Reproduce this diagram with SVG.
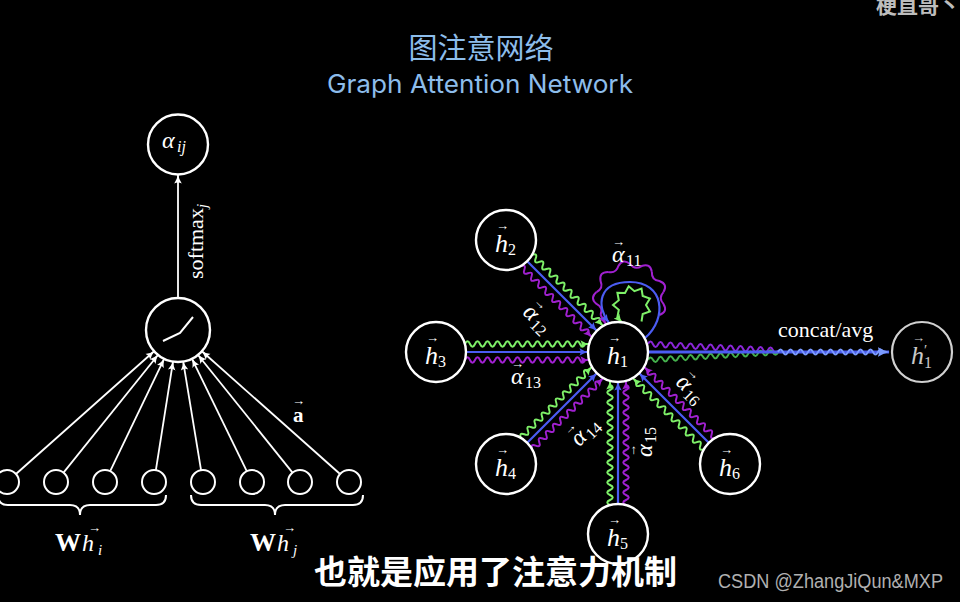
<svg xmlns="http://www.w3.org/2000/svg" width="960" height="602" viewBox="0 0 960 602">
<style>
.node{fill:#000;stroke:#fff;stroke-width:2.4}
.sn{fill:#000;stroke:#fff;stroke-width:2}
.wl{fill:none;stroke:#fff;stroke-width:1.8;marker-end:url(#mw)}
.m{font-family:"Liberation Serif","DejaVu Serif",serif;fill:#fff}
.it{font-style:italic}
.vec{font-family:"Liberation Serif","DejaVu Serif",serif;font-size:13px;fill:#fff}
.wg{fill:none;stroke:#7ef068;stroke-width:2;marker-end:url(#mg)}
.wb{fill:none;stroke:#4b5cf2;stroke-width:2.2;marker-end:url(#mb)}
.wp{fill:none;stroke:#a020d0;stroke-width:2;marker-end:url(#mp)}
.lp{fill:none;stroke:#a020d0;stroke-width:2}
.cjk{font-family:"Noto Sans CJK SC","Noto Sans",sans-serif}
</style>
<defs>
<marker id="mw" viewBox="0 0 10 10" refX="9.5" refY="5" markerWidth="9" markerHeight="9" markerUnits="userSpaceOnUse" orient="auto"><path d="M0,0.8 Q5,4 10,5 Q5,6 0,9.2 Q2.5,5 0,0.8Z" fill="#fff"/></marker>
<marker id="mg" viewBox="0 0 10 10" refX="9.5" refY="5" markerWidth="9" markerHeight="9" markerUnits="userSpaceOnUse" orient="auto"><path d="M0,0.8 Q5,4 10,5 Q5,6 0,9.2 Q2.5,5 0,0.8Z" fill="#7ef068"/></marker>
<marker id="mb" viewBox="0 0 10 10" refX="9.5" refY="5" markerWidth="9" markerHeight="9" markerUnits="userSpaceOnUse" orient="auto"><path d="M0,0.8 Q5,4 10,5 Q5,6 0,9.2 Q2.5,5 0,0.8Z" fill="#4b5cf2"/></marker>
<marker id="mp" viewBox="0 0 10 10" refX="9.5" refY="5" markerWidth="9" markerHeight="9" markerUnits="userSpaceOnUse" orient="auto"><path d="M0,0.8 Q5,4 10,5 Q5,6 0,9.2 Q2.5,5 0,0.8Z" fill="#a020d0"/></marker>
<marker id="mbl" viewBox="0 0 10 10" refX="9.5" refY="5" markerWidth="12" markerHeight="12" markerUnits="userSpaceOnUse" orient="auto"><path d="M0,0.8 Q5,4 10,5 Q5,6 0,9.2 Q2.5,5 0,0.8Z" fill="#7b9bff"/></marker>
<path id="wd" d="M29,0q2.5,-5.5 5,0t5,0t5,0t5,0t5,0t5,0t5,0t5,0t5,0t5,0t5,0t5,0t5,0t5,0t5,0t5,0t5,0t5,0t5,0l5.4,0"/>
<path id="ws" d="M29,0q2.5,-5.5 5,0t5,0t5,0t5,0t5,0t5,0t5,0t5,0t5,0t5,0t5,0t5,0t5,0t5,0t5,0t5,0t5,0t5,0t5,0t5,0t5,0t5,0t5,0t5,0l4,0"/>
<path id="pu" d="M34,0 Q40,-7.05 31.95,-11.63 Q24.25,-14 26.05,-21.85"/>
</defs>
<rect width="960" height="602" fill="#000"/>

<g id="title">
<text class="cjk" x="481" y="59" font-size="29" fill="#8dbdeb" text-anchor="middle">图注意网络</text>
<text x="327" y="93" font-family="Inter,'Liberation Sans',sans-serif" font-size="25" fill="#8dbdeb" textLength="306" lengthAdjust="spacingAndGlyphs">Graph Attention Network</text>
</g>
<text class="cjk" x="876" y="13" font-size="21" font-weight="bold" fill="#bdbdbd">梗直哥丶</text>

<g id="connectors">
<path class="wl" d="M178,298 L178,175"/>
<path class="wl" d="M15.97,474.03 L154.08,351.26"/>
<path class="wl" d="M63.51,472.64 L157.97,354.96"/>
<path class="wl" d="M110.2,471.18 L164.14,358.85"/>
<path class="wl" d="M155.87,470.15 L173.01,361.61"/>
<path class="wl" d="M201.05,470.16 L183.19,361.57"/>
<path class="wl" d="M246.75,471.21 L192.01,358.77"/>
<path class="wl" d="M292.49,472.64 L198.03,354.96"/>
<path class="wl" d="M340.03,474.03 L201.92,351.26"/>
<g id="e2" transform="translate(506,240) rotate(45)"><use href="#wd" y="-8" class="wg"/><path class="wb" d="M30,0H128.4"/><use href="#wd" y="8" class="wp"/></g>
<g id="e3" transform="translate(436,352)"><use href="#ws" y="-8" class="wg"/><path class="wb" d="M30,0H152"/><use href="#ws" y="8" class="wp"/></g>
<g id="e4" transform="translate(506,464) rotate(-45)"><use href="#wd" y="-8" class="wg"/><path class="wb" d="M30,0H128.4"/><use href="#wd" y="8" class="wp"/></g>
<g id="e5" transform="translate(618,534) rotate(-90)"><use href="#ws" y="-8" class="wg"/><path class="wb" d="M30,0H152"/><use href="#ws" y="8" class="wp"/></g>
<g id="e6" transform="translate(730,464) rotate(-135)"><use href="#wd" y="-8" class="wg"/><path class="wb" d="M30,0H128.4"/><use href="#wd" y="8" class="wp"/></g>
<g id="e1loop">
<g class="lp">
<use href="#pu" transform="translate(630,298) rotate(30)"/>
<use href="#pu" transform="translate(630,298) rotate(-10)"/>
<use href="#pu" transform="translate(630,298) rotate(-50)"/>
<use href="#pu" transform="translate(630,298) rotate(-90)"/>
<use href="#pu" transform="translate(630,298) rotate(-130)"/>
<use href="#pu" transform="translate(630,298) rotate(-170)"/>
</g>
<path class="wp" d="M600.6,315 L606,324.3"/>
<path class="wb" d="M645,338 C668,318 664,282 630,282 C598,282 596,306 609,323"/>
<path class="wg" d="M641.5,321.5 L642.7,314 L649.9,311.5 L646,305 L649.9,298.5 L642.7,296 L641.5,288.5 L634.4,291.2 L628.7,286.3 L625,292.9 L617.4,292.8 L618.8,300.2 L613,305 L618.8,309.8 L617.4,317.2 L622,322.6"/>
</g>
<g id="eout">
<path d="M648,344q2.5,-5 5,0.25t5,0.25t5,0.25t5,0.25t5,0.25t5,0.25t5,0.25t5,0.25t5,0.25t5,0.25t5,0.25t5,0.25t5,0.25t5,0.25t5,0.25t5,0.25t5,0.25t5,0.25t5,0.25t5,0.25t5,0.25t5,0.25t5,0.25t5,0.25t5,0.25t5,0.25" fill="none" stroke="#8a26d8" stroke-width="2"/>
<path d="M648,360q2.5,-5 5,-0.3t5,-0.3t5,-0.3t5,-0.3t5,-0.3t5,-0.3t5,-0.3t5,-0.3t5,-0.3t5,-0.3t5,-0.3t5,-0.3t5,-0.3t5,-0.3t5,-0.3t5,-0.3t5,-0.3t5,-0.3t5,-0.3t5,-0.3t5,-0.3t5,-0.3t5,-0.3t5,-0.3t5,-0.3t5,-0.3" fill="none" stroke="#44b04c" stroke-width="2"/>
<path d="M648,352 L889,352" fill="none" stroke="#4b5cf2" stroke-width="3" marker-end="url(#mbl)"/>
<path d="M778,352q2.5,-5 5,0t5,0t5,0t5,0t5,0t5,0t5,0t5,0t5,0t5,0t5,0t5,0t5,0t5,0t5,0t5,0t5,0t5,0t5,0t5,0t5,0" fill="none" stroke="#7b9bff" stroke-width="1.8"/>
</g>
</g>

<g id="alpha-ij"><circle class="node" cx="178" cy="144.5" r="30"/><text class="m it" x="162" y="148" font-size="24">α</text><text class="m it" x="177" y="152" font-size="16">ij</text></g>
<g id="attn"><circle class="node" cx="178" cy="330" r="32"/><polyline points="163,341 180,333 193,317" fill="none" stroke="#fff" stroke-width="2"/></g>
<text class="m" transform="translate(203,279) rotate(-90)" font-size="22">softmax<tspan class="it" font-size="15" dy="4">j</tspan></text>

<g id="x1"><circle class="sn" cx="7" cy="482" r="12"/></g>
<g id="x2"><circle class="sn" cx="56" cy="482" r="12"/></g>
<g id="x3"><circle class="sn" cx="105" cy="482" r="12"/></g>
<g id="x4"><circle class="sn" cx="154" cy="482" r="12"/></g>
<g id="x5"><circle class="sn" cx="203" cy="482" r="12"/></g>
<g id="x6"><circle class="sn" cx="252" cy="482" r="12"/></g>
<g id="x7"><circle class="sn" cx="300" cy="482" r="12"/></g>
<g id="x8"><circle class="sn" cx="349" cy="482" r="12"/></g>
<path d="M-2,495 Q-2,505 8,505 L70,505 Q80,505 80,515 Q80,505 90,505 L156,505 Q166,505 166,495" fill="none" stroke="#fff" stroke-width="2"/>
<path d="M191,495 Q191,505 201,505 L265,505 Q275,505 275,515 Q275,505 285,505 L353,505 Q363,505 363,495" fill="none" stroke="#fff" stroke-width="2"/>
<g id="lab-whi"><text class="m" x="55" y="551" font-size="26" font-weight="bold">W</text><text class="vec" x="88" y="532">→</text><text class="m it" x="82" y="551" font-size="24">h</text><text class="m it" x="98" y="555" font-size="15">i</text></g>
<g id="lab-whj"><text class="m" x="250" y="551" font-size="26" font-weight="bold">W</text><text class="vec" x="283" y="532">→</text><text class="m it" x="277" y="551" font-size="24">h</text><text class="m it" x="293" y="555" font-size="15">j</text></g>
<g id="lab-a"><text class="vec" x="292" y="405">→</text><text class="m" x="293" y="422" font-size="21" font-weight="bold">a</text></g>

<g id="h1"><circle class="node" cx="618" cy="352" r="30"/><text class="vec" x="608" y="342">→</text><text class="m it" x="607" y="364" font-size="26">h</text><text class="m" x="620" y="367" font-size="16">1</text></g>
<g id="h2"><circle class="node" cx="506" cy="240" r="30"/><text class="vec" x="496" y="230">→</text><text class="m it" x="495" y="252" font-size="26">h</text><text class="m" x="508" y="255" font-size="16">2</text></g>
<g id="h3"><circle class="node" cx="436" cy="352" r="30"/><text class="vec" x="426" y="342">→</text><text class="m it" x="425" y="364" font-size="26">h</text><text class="m" x="438" y="367" font-size="16">3</text></g>
<g id="h4"><circle class="node" cx="506" cy="464" r="30"/><text class="vec" x="496" y="454">→</text><text class="m it" x="495" y="476" font-size="26">h</text><text class="m" x="508" y="479" font-size="16">4</text></g>
<g id="h5"><circle class="node" cx="618" cy="534" r="30"/><text class="vec" x="608" y="524">→</text><text class="m it" x="607" y="546" font-size="26">h</text><text class="m" x="620" y="549" font-size="16">5</text></g>
<g id="h6"><circle class="node" cx="730" cy="464" r="30"/><text class="vec" x="720" y="454">→</text><text class="m it" x="719" y="476" font-size="26">h</text><text class="m" x="732" y="479" font-size="16">6</text></g>
<g id="h1p"><circle cx="922" cy="352" r="30" fill="#000" stroke="#d0d0d0" stroke-width="2.2"/><text class="vec" x="912" y="342" style="fill:#c8c8c8">→</text><text class="m it" x="911" y="364" font-size="26" style="fill:#c8c8c8">h</text><text class="m" x="924" y="355" font-size="15" style="fill:#c8c8c8">′</text><text class="m" x="924" y="368" font-size="16" style="fill:#c8c8c8">1</text></g>

<g id="edge-labels">
<g transform="translate(626,256)"><text class="vec" x="-14" y="-10">→</text><text class="m it" x="-14" y="6" font-size="24">α</text><text class="m" x="0" y="10" font-size="16">11</text></g>
<g transform="translate(536,319) rotate(45)"><text class="vec" x="-14" y="-10">→</text><text class="m it" x="-14" y="6" font-size="24">α</text><text class="m" x="0" y="10" font-size="16">12</text></g>
<g transform="translate(525,378)"><text class="vec" x="-14" y="-10">→</text><text class="m it" x="-14" y="6" font-size="24">α</text><text class="m" x="0" y="10" font-size="16">13</text></g>
<g transform="translate(585,433) rotate(-45)"><text class="vec" x="-14" y="-10">→</text><text class="m it" x="-14" y="6" font-size="24">α</text><text class="m" x="0" y="10" font-size="16">14</text></g>
<g transform="translate(646,443) rotate(-90)"><text class="vec" x="-14" y="-10">→</text><text class="m it" x="-14" y="6" font-size="24">α</text><text class="m" x="0" y="10" font-size="16">15</text></g>
<g transform="translate(689,389) rotate(45)"><text class="vec" x="-14" y="-10">→</text><text class="m it" x="-14" y="6" font-size="24">α</text><text class="m" x="0" y="10" font-size="16">16</text></g>
<text class="m" x="778" y="337" font-size="22">concat/avg</text>
</g>

<text class="cjk" x="314" y="584" font-size="33" font-weight="bold" fill="#fff">也就是应用了注意力机制</text>
<text x="718" y="588" font-family="'Liberation Sans',Arial,sans-serif" font-size="20" fill="#b0b0b0" textLength="225" lengthAdjust="spacingAndGlyphs">CSDN @ZhangJiQun&amp;MXP</text>
</svg>
